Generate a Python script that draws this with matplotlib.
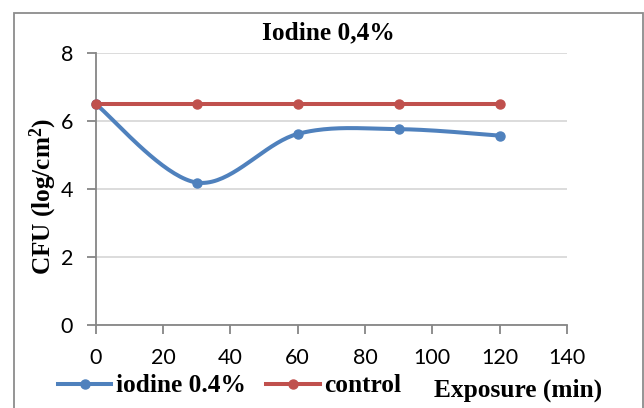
import numpy as np
import matplotlib
matplotlib.use("Agg")
import matplotlib.pyplot as plt
from matplotlib.patches import Rectangle
from matplotlib.lines import Line2D

# ---- data ----
exposure = [0, 30, 60, 90, 120]
iodine = [6.5, 4.19, 5.62, 5.76, 5.57]
control = [6.5, 6.5, 6.5, 6.5, 6.5]
series_names = ["iodine 0.4%", "control"]
title = "Iodine 0,4%"
xticks = [0, 20, 40, 60, 80, 100, 120, 140]
yticks = [0, 2, 4, 6, 8]

BLUE = "#4F81BD"
RED = "#C0504D"
W, H = 644, 408
DPI = 100

plt.rcParams["mathtext.fontset"] = "custom"
plt.rcParams["mathtext.rm"] = "Liberation Serif:bold"
plt.rcParams["mathtext.bf"] = "Liberation Serif:bold"
plt.rcParams["mathtext.it"] = "Liberation Serif:bold"

SERIF = dict(family="Liberation Serif", weight="bold")


def smooth(xs, ys, n=40):
    """Excel-like smoothed line (Catmull-Rom Bezier through the points)."""
    P = np.column_stack([xs, ys]).astype(float)
    ext = np.vstack([P[0], P, P[-1]])
    out = []
    for i in range(len(P) - 1):
        p0, p1, p2, p3 = ext[i], ext[i + 1], ext[i + 2], ext[i + 3]
        c1 = p1 + (p2 - p0) / 6.0
        c2 = p2 - (p3 - p1) / 6.0
        t = np.linspace(0, 1, n)[:, None]
        seg = ((1 - t) ** 3) * p1 + 3 * ((1 - t) ** 2) * t * c1 + 3 * (1 - t) * t ** 2 * c2 + t ** 3 * p2
        out.append(seg if i == 0 else seg[1:])
    s = np.vstack(out)
    return s[:, 0], s[:, 1]


fig = plt.figure(figsize=(W / DPI, H / DPI), dpi=DPI)

def fx(px):
    return px / W

def fy(py):
    return 1 - py / H

# outer frame
fig.patches.append(Rectangle((fx(13.5), fy(420)), fx(643) - fx(13.5), fy(12.7) - fy(420),
                             transform=fig.transFigure, fill=False,
                             edgecolor="#8C8C8C", linewidth=1.3, clip_on=False))

left, right, top, bottom = 95.7, 567.0, 53.0, 325.0
ax = fig.add_axes([fx(left), fy(bottom), fx(right) - fx(left), fy(top) - fy(bottom)])

ax.set_xlim(0, 140)
ax.set_ylim(0, 8)
ax.set_xticks(xticks)
ax.set_yticks(yticks)
ax.set_xticklabels([str(v) for v in xticks])
ax.set_yticklabels([str(v) for v in yticks])

for s in ["top", "right"]:
    ax.spines[s].set_visible(False)
for s in ["left", "bottom"]:
    ax.spines[s].set_color("#868686")
    ax.spines[s].set_linewidth(1.3)

ax.grid(axis="y", color="#D9D9D9", linewidth=1.3)
ax.set_axisbelow(True)
ax.tick_params(axis="both", direction="out", length=6.3, width=1.3, color="#868686",
               labelsize=15.5, pad=10)
for lab in ax.get_xticklabels() + ax.get_yticklabels():
    lab.set_family("Lato")
    lab.set_color("black")

sx, sy = smooth(exposure, iodine)
ax.plot(sx, sy, color=BLUE, linewidth=2.9, solid_capstyle="round", clip_on=False, zorder=3)
ax.plot(exposure, iodine, linestyle="none", marker="o", markersize=6.5, color=BLUE,
        clip_on=False, zorder=4)
ax.plot(exposure, control, color=RED, linewidth=2.9, marker="o", markersize=6.5,
        clip_on=False, zorder=5)

# title
fig.text(fx(328), fy(33), title, ha="center", va="center", fontsize=18.3, **SERIF)

# y label
fig.text(fx(43), fy(196), "CFU (log/cm$^{2}$)", ha="center", va="center",
         rotation=90, fontsize=18.2, **SERIF)

# legend
handles = [Line2D([], [], color=BLUE, linewidth=2.9, marker="o", markersize=6.5),
           Line2D([], [], color=RED, linewidth=2.9, marker="o", markersize=6.5)]
leg = fig.legend(handles, series_names, loc="center left",
                 bbox_to_anchor=(fx(58), fy(386)), bbox_transform=fig.transFigure,
                 ncol=2, frameon=False, borderpad=0, borderaxespad=0,
                 handlelength=2.1, handletextpad=0.2, columnspacing=0.78,
                 prop=dict(family="Liberation Serif", weight="bold", size=18.3))

# x label
fig.text(fx(434), fy(390), "Exposure (min)", ha="left", va="center",
         fontsize=18.3, **SERIF)

fig.savefig("out.png", dpi=DPI)
